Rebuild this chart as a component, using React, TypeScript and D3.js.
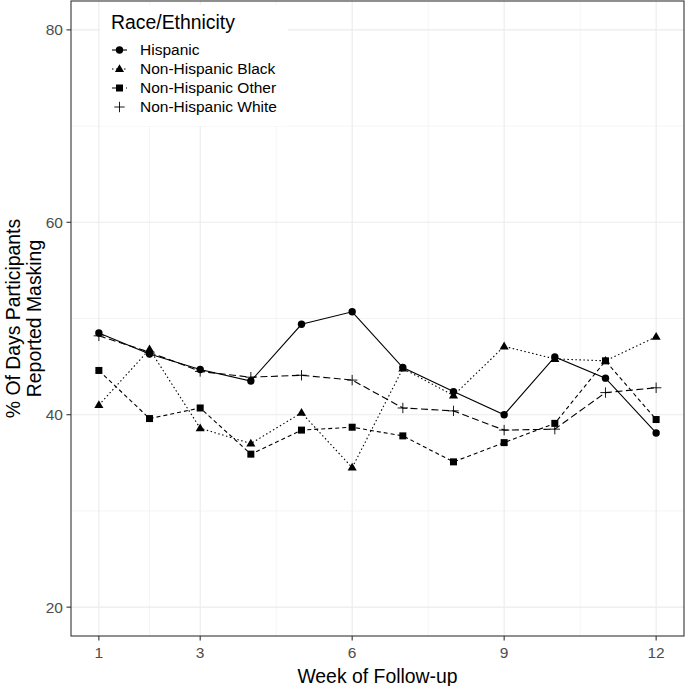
import React from "react";
import * as d3 from "d3";

// weekly % of days masking
const weeks = [1, 2, 3, 4, 5, 6, 7, 8, 9, 10, 11, 12];
const hispanic = [48.5, 46.3, 44.7, 43.5, 49.4, 50.7, 44.9, 42.4, 40.0, 46.0, 43.8, 38.1];
const nhBlack = [41.0, 46.8, 38.6, 37.0, 40.2, 34.5, 44.8, 42.0, 47.1, 45.8, 45.6, 48.1];
const nhOther = [44.6, 39.6, 40.7, 35.9, 38.4, 38.7, 37.8, 35.1, 37.1, 39.1, 45.6, 39.5];
const nhWhite = [48.2, 46.5, 44.5, 43.9, 44.1, 43.6, 40.7, 40.4, 38.4, 38.5, 42.3, 42.8];

const groupNames = ["Hispanic", "Non-Hispanic Black", "Non-Hispanic Other", "Non-Hispanic White"];
const xTicks = [1, 3, 6, 9, 12];
const xMinor = [2, 4.5, 7.5, 10.5];
const yTicks = [20, 40, 60, 80];
const yMinor = [30, 50, 70];

const W = 685;
const H = 686;
const font = "'Liberation Sans', Arial, sans-serif";
const titleSize = 19.4;
const textSize = 15.5;

const series = [
  { name: groupNames[0], values: hispanic, dash: null, shape: "circle" },
  { name: groupNames[1], values: nhBlack, dash: "1.5 2.5", shape: "triangle" },
  { name: groupNames[2], values: nhOther, dash: "4 3", shape: "square" },
  { name: groupNames[3], values: nhWhite, dash: "7 3.5", shape: "plus" },
];

const Marker = ({ shape, x, y }: { shape: string; x: number; y: number }) => {
  if (shape === "circle") return <circle cx={x} cy={y} r={3.7} fill="#000" />;
  if (shape === "square") return <rect x={x - 3.5} y={y - 3.5} width={7} height={7} fill="#000" />;
  if (shape === "triangle") {
    const s = 4.8;
    return <path d={`M${x},${y - s}L${x + s * 0.95},${y + s * 0.62}L${x - s * 0.95},${y + s * 0.62}Z`} fill="#000" />;
  }
  const p = 5.2;
  return (
    <path d={`M${x - p},${y}H${x + p}M${x},${y - p}V${y + p}`} stroke="#000" strokeWidth={0.9} fill="none" />
  );
};

export default function App() {
  const left = 71;
  const right = 684;
  const top = 1;
  const bottom = 636;

  // ggplot-style 5% expansion
  const x = d3.scaleLinear().domain([1 - 0.55, 12 + 0.55]).range([left, right]);
  const y = d3.scaleLinear().domain([17, 83]).range([bottom, top]);

  const line = d3
    .line<number>()
    .x((_, i) => x(weeks[i]))
    .y((d) => y(d));

  const midY = (top + bottom) / 2;

  return (
    <svg
      width={W}
      height={H}
      style={{ position: "absolute", left: 0, top: 0, background: "#fff", fontFamily: font }}
    >
      <rect x={0} y={0} width={W} height={H} fill="#fff" />
      {/* grid */}
      <g>
        {yMinor.map((v) => (
          <line key={"ym" + v} x1={left} x2={right} y1={y(v)} y2={y(v)} stroke="#EBEBEB" strokeWidth={0.55} />
        ))}
        {xMinor.map((v) => (
          <line key={"xm" + v} x1={x(v)} x2={x(v)} y1={top} y2={bottom} stroke="#EBEBEB" strokeWidth={0.55} />
        ))}
        {yTicks.map((v) => (
          <line key={"y" + v} x1={left} x2={right} y1={y(v)} y2={y(v)} stroke="#EBEBEB" strokeWidth={1.1} />
        ))}
        {xTicks.map((v) => (
          <line key={"x" + v} x1={x(v)} x2={x(v)} y1={top} y2={bottom} stroke="#EBEBEB" strokeWidth={1.1} />
        ))}
      </g>

      {/* series */}
      {series.map((s) => (
        <g key={s.name}>
          <path
            d={line(s.values) || ""}
            fill="none"
            stroke="#000"
            strokeWidth={1.1}
            strokeDasharray={s.dash || undefined}
          />
          {s.values.map((v, i) => (
            <Marker key={i} shape={s.shape} x={x(weeks[i])} y={y(v)} />
          ))}
        </g>
      ))}

      {/* legend */}
      <g>
        <rect x={100} y={5} width={188} height={121} fill="#fff" />
        <text x={111} y={29} fontSize={titleSize} fill="#000">Race/Ethnicity</text>
        {series.map((s, i) => {
          const cy = 50 + i * 19;
          return (
            <g key={"lg" + s.name}>
              {s.shape !== "plus" && (
                <line x1={112} x2={127} y1={cy} y2={cy} stroke="#000" strokeWidth={1.1} strokeDasharray={s.dash || undefined} />
              )}
              <Marker shape={s.shape} x={119.5} y={cy} />
              <text x={140} y={cy} dy="0.35em" fontSize={textSize} fill="#000">{s.name}</text>
            </g>
          );
        })}
      </g>

      {/* panel border */}
      <rect x={left} y={top} width={right - left} height={bottom - top} fill="none" stroke="#333" strokeWidth={1.1} />

      {/* axes */}
      {yTicks.map((v) => (
        <g key={"yt" + v}>
          <line x1={left - 4.5} x2={left} y1={y(v)} y2={y(v)} stroke="#333" strokeWidth={1.1} />
          <text x={left - 8} y={y(v)} dy="0.35em" textAnchor="end" fontSize={textSize} fill="#4D4D4D">{v}</text>
        </g>
      ))}
      {xTicks.map((v) => (
        <g key={"xt" + v}>
          <line x1={x(v)} x2={x(v)} y1={bottom} y2={bottom + 4.5} stroke="#333" strokeWidth={1.1} />
          <text x={x(v)} y={bottom + 22} textAnchor="middle" fontSize={textSize} fill="#4D4D4D">{v}</text>
        </g>
      ))}

      <text x={(left + right) / 2} y={683} textAnchor="middle" fontSize={titleSize} fill="#000">Week of Follow-up</text>
      <text transform={`translate(20,${midY}) rotate(-90)`} textAnchor="middle" fontSize={titleSize} fill="#000">
        <tspan x={0} y={0}>% Of Days Participants</tspan>
        <tspan x={0} y={21}>Reported Masking</tspan>
      </text>
    </svg>
  );
}
